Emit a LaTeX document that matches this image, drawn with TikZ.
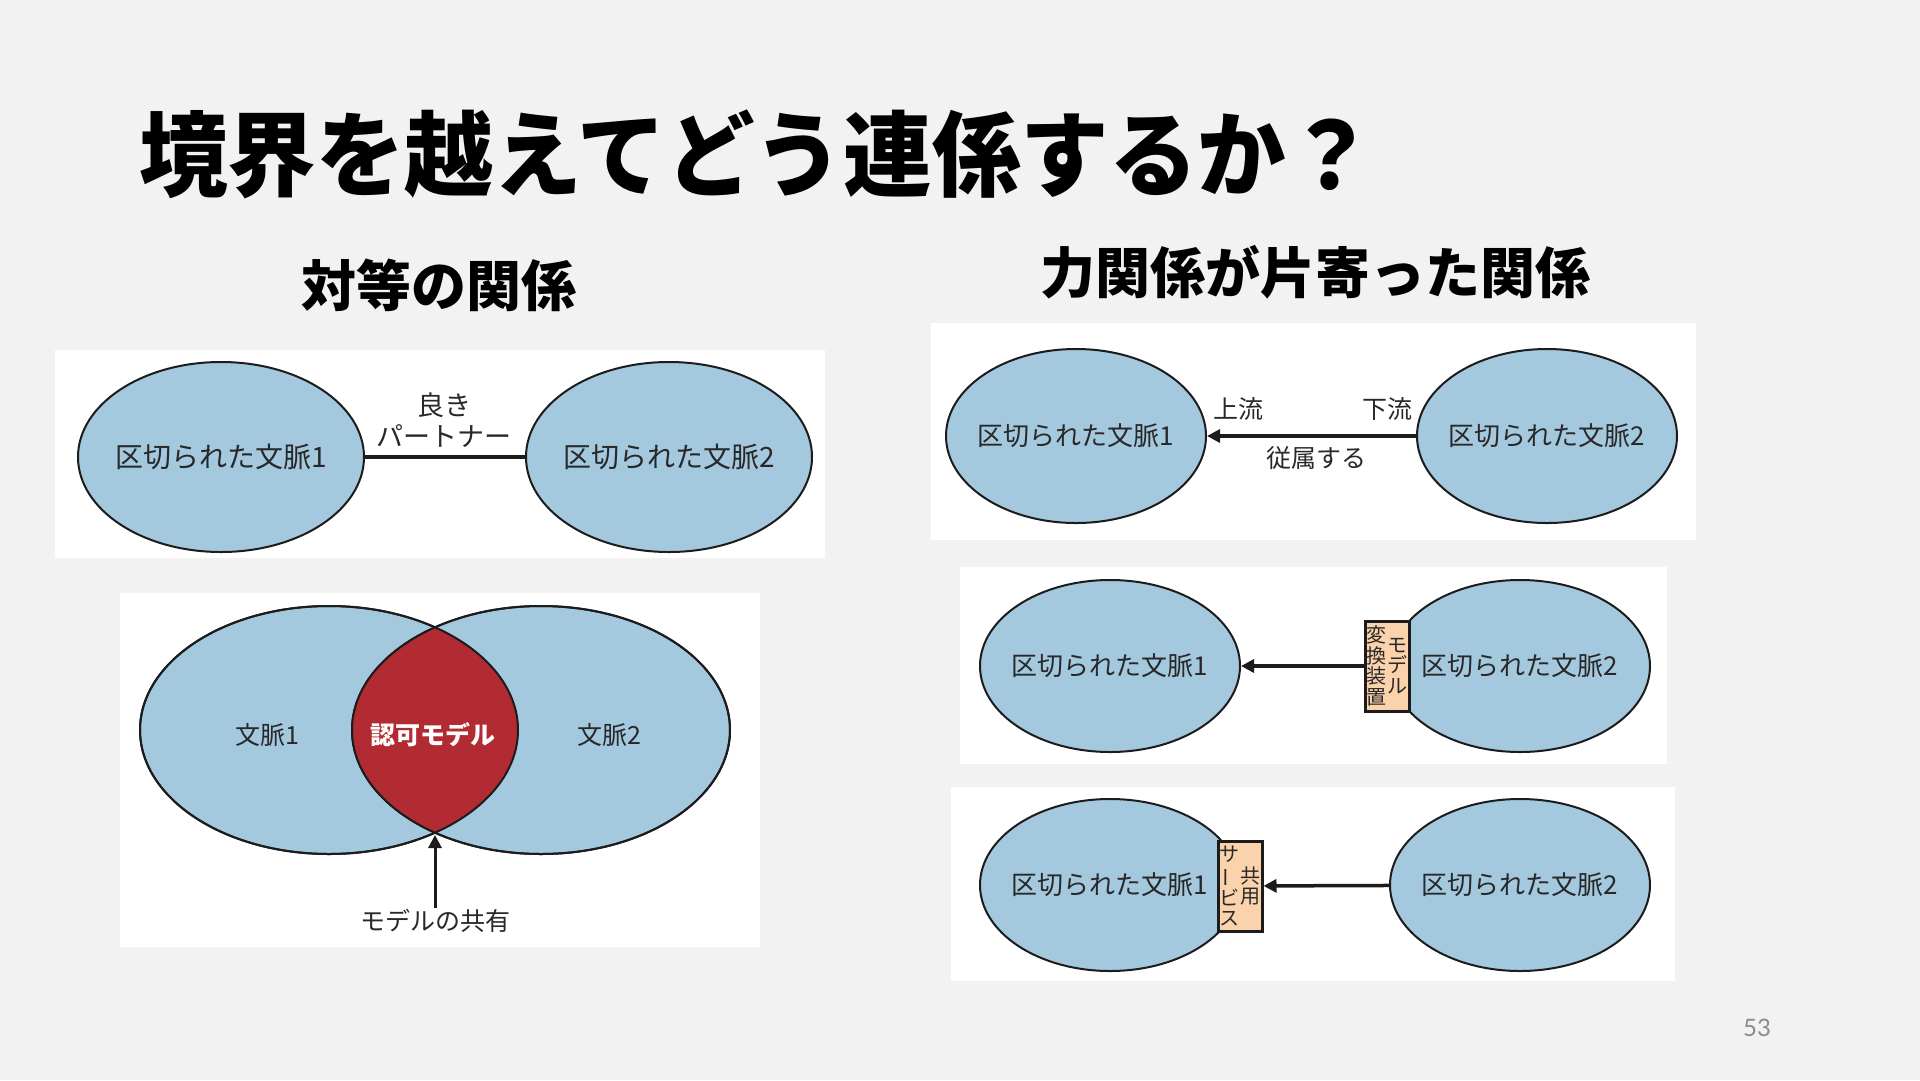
\documentclass[tikz,border=0pt]{standalone}
\usepackage{fontspec}
\setmainfont{Noto Sans CJK JP}
\newfontfamily\numfont{Lato}
\usetikzlibrary{arrows.meta,shapes.geometric}
\definecolor{bgc}{RGB}{242,242,242}
\definecolor{ctxblue}{RGB}{164,201,223}
\definecolor{lensred}{RGB}{178,42,50}
\definecolor{peach}{RGB}{250,210,172}
\definecolor{outl}{RGB}{28,28,28}
\definecolor{txt}{RGB}{40,40,40}
\definecolor{pgnum}{RGB}{140,140,140}
\tikzset{
  ctx/.style={ellipse, draw=outl, line width=2pt, fill=ctxblue, inner sep=0pt},
  ctxtext/.style={text=txt, inner sep=0pt, font=\fontsize{26}{30}\selectfont},
  bigtext/.style={text=txt, inner sep=0pt, font=\fontsize{28}{32}\selectfont},
  lbl/.style={text=txt, inner sep=1pt, font=\fontsize{25}{31}\selectfont, align=center},
  conn/.style={line width=3.5pt, draw=outl},
  arr/.style={conn, -{Triangle[length=13pt,width=13pt]}},
  vbox/.style={rectangle, draw=outl, line width=3pt, fill=peach, minimum width=44pt, minimum height=90pt, inner sep=0pt},
  vtext/.style={font=\fontsize{20}{20.5}\selectfont, align=center, inner sep=0pt, text=txt},
}
\begin{document}
\begin{tikzpicture}[x=1pt,y=-1pt]
\fill[bgc] (0,0) rectangle (1920,1080);
\useasboundingbox (0,0) rectangle (1920,1080);

% titles
\node[font=\fontsize{86}{90}\selectfont\bfseries, text=black, inner sep=0pt] (title) at (757,154) {\scalebox{1.03}[1.08]{境界を越えてどう連係するか？}};
\node[font=\fontsize{55}{60}\selectfont\bfseries, text=black, inner sep=0pt] (subL) at (439,285) {対等の関係};
\node[font=\fontsize{55}{60}\selectfont\bfseries, text=black, inner sep=0pt] (subR) at (1315,272) {力関係が片寄った関係};

% ---------- panel 1: partnership ----------
\fill[white] (55,350) rectangle (825,558);
\node[ctx, minimum width=286pt, minimum height=190pt] (p1) at (221,457) {};
\node[bigtext] (p1t) at (p1) {区切られた文脈1};
\node[ctx, minimum width=286pt, minimum height=190pt] (p2) at (669,457) {};
\node[bigtext] (p2t) at (p2) {区切られた文脈2};
\draw[conn] (p1) -- (p2);
\node[lbl, font=\fontsize{27}{31}\selectfont] (partner) at (444,420) {良き\\パートナー};

% ---------- panel 2: shared kernel ----------
\fill[white] (120,593) rectangle (760,947);
\node[ctx, minimum width=378pt, minimum height=248pt] (v1) at (329,730) {};
\node[ctx, minimum width=378pt, minimum height=248pt] (v2) at (541,730) {};
\begin{scope}
  \clip (329,730) ellipse [x radius=189pt, y radius=124pt];
  \fill[lensred] (541,730) ellipse [x radius=189pt, y radius=124pt];
\end{scope}
\draw[outl, line width=2pt] (v1.center) ellipse [x radius=189pt, y radius=124pt];
\draw[outl, line width=2pt] (v2.center) ellipse [x radius=189pt, y radius=124pt];
\node[lbl] (v1t) at (267,735) {文脈1};
\node[lbl, text=white, font=\fontsize{25}{30}\selectfont\bfseries] (v12t) at (433,735) {認可モデル};
\node[lbl] (v2t) at (609,735) {文脈2};
\coordinate (lensbot) at (435,835);
\node[lbl] (share) at (435,921) {モデルの共有};
\draw[arr, line width=3pt] (share) -- (lensbot);

% ---------- panel 3: upstream / downstream ----------
\fill[white] (931,323) rectangle (1696,540);
\node[ctx, minimum width=260pt, minimum height=174pt] (u1) at (1076,436) {};
\node[ctxtext] (u1t) at (u1) {区切られた文脈1};
\node[ctx, minimum width=260pt, minimum height=174pt] (u2) at (1547,436) {};
\node[ctxtext] (u2t) at (u2) {区切られた文脈2};
\draw[arr] (u2) -- (u1);
\node[lbl] (up) at (1238,409) {上流};
\node[lbl] (down) at (1387,409) {下流};
\node[lbl] (dep) at (1316,458) {従属する};

% ---------- panel 4: anticorruption layer ----------
\fill[white] (960,567) rectangle (1667,764);
\node[ctx, minimum width=260pt, minimum height=172pt] (m1) at (1110,666) {};
\node[ctxtext] (m1t) at (m1) {区切られた文脈1};
\node[ctx, minimum width=260pt, minimum height=172pt] (m2) at (1520,666) {};
\node[ctxtext] (m2t) at (m2) {区切られた文脈2};
\node[vbox] (conv) at (1387,666) {};
\node[vtext] (convL) at (1376.5,666) {変\\換\\装\\置};
\node[vtext] (convR) at (1397.5,666) {モ\\デ\\ル};
\draw[arr] (conv) -- (m1);

% ---------- panel 5: open host service ----------
\fill[white] (951,787) rectangle (1675,981);
\node[ctx, minimum width=260pt, minimum height=172pt] (b1) at (1110,885) {};
\node[ctxtext] (b1t) at (b1) {区切られた文脈1};
\node[ctx, minimum width=260pt, minimum height=172pt] (b2) at (1520,885) {};
\node[ctxtext] (b2t) at (b2) {区切られた文脈2};
\node[vbox] (svc) at (1240,886) {};
\node[vtext] (svcL) at (1229.5,886) {サ\\\rotatebox[origin=c]{90}{ー}\\ビ\\ス};
\node[vtext] (svcR) at (1250.5,886) {共\\用};
\draw[arr] (b2) -- (svc);

% page number
\node[text=pgnum, font=\numfont\fontsize{24}{28}\selectfont, inner sep=0pt] (pg) at (1757,1028) {53};
\end{tikzpicture}
\end{document}
